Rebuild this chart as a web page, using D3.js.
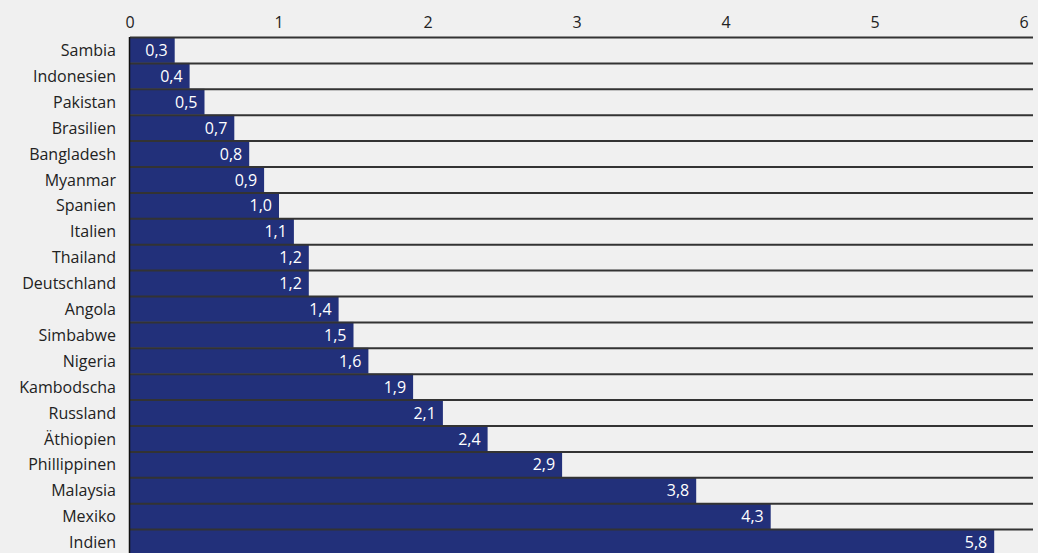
<!DOCTYPE html>
<html>
<head>
<meta charset="utf-8">
<script src="https://cdn.jsdelivr.net/npm/d3@7"></script>
<style>
  body { margin: 0; background: #f0f0f0; }
  svg { display: block; font-family: "Open Sans", sans-serif; }
</style>
</head>
<body>
<svg id="chart"></svg>
<script>
// countries, top to bottom
const countries = ["Sambia", "Indonesien", "Pakistan", "Brasilien", "Bangladesh", "Myanmar",
  "Spanien", "Italien", "Thailand", "Deutschland", "Angola", "Simbabwe", "Nigeria",
  "Kambodscha", "Russland", "Äthiopien", "Phillippinen", "Malaysia", "Mexiko", "Indien"];
const values = [0.3, 0.4, 0.5, 0.7, 0.8, 0.9, 1.0, 1.1, 1.2, 1.2, 1.4, 1.5, 1.6,
  1.9, 2.1, 2.4, 2.9, 3.8, 4.3, 5.8];
const ticks = [0, 1, 2, 3, 4, 5, 6];

const data = countries.map((c, i) => ({ name: c, value: values[i] }));

const width = 1038, height = 553;
const margin = { top: 37, left: 130, right: 14 };
const rowH = 25.9;

const svg = d3.select("#chart")
    .attr("width", width)
    .attr("height", height);

const x = d3.scaleLinear()
    .domain([0, 6])
    .range([margin.left, 1024]);

const y = d3.scaleBand()
    .domain(countries)
    .range([margin.top, margin.top + rowH * countries.length])
    .padding(0);

const fmt = v => d3.format(".1f")(v).replace(".", ",");

// x axis on top
svg.append("g")
    .selectAll("text")
    .data(ticks)
    .enter().append("text")
    .attr("x", d => x(d))
    .attr("y", 28)
    .attr("text-anchor", "middle")
    .attr("font-size", 16)
    .attr("fill", "#222")
    .text(d => d);

// bars
svg.append("g")
    .selectAll("rect")
    .data(data)
    .enter().append("rect")
    .attr("x", x(0))
    .attr("y", d => y(d.name))
    .attr("width", d => x(d.value) - x(0))
    .attr("height", y.bandwidth())
    .attr("fill", "#22307a");

// row lines
svg.append("g")
    .selectAll("line")
    .data(data)
    .enter().append("line")
    .attr("x1", x(0))
    .attr("x2", width - 5)
    .attr("y1", d => y(d.name) + 0.5)
    .attr("y2", d => y(d.name) + 0.5)
    .attr("stroke", "#333")
    .attr("stroke-width", 2);

// left line
svg.append("line")
    .attr("x1", x(0) - 0.5)
    .attr("x2", x(0) - 0.5)
    .attr("y1", margin.top)
    .attr("y2", height)
    .attr("stroke", "#111")
    .attr("stroke-width", 1.5);

// country labels
svg.append("g")
    .selectAll("text")
    .data(data)
    .enter().append("text")
    .attr("x", 116)
    .attr("y", d => y(d.name) + y.bandwidth() / 2 + 0.5)
    .attr("dy", "0.35em")
    .attr("text-anchor", "end")
    .attr("font-size", 16)
    .attr("fill", "#222")
    .text(d => d.name);

// value labels inside bars
svg.append("g")
    .selectAll("text")
    .data(data)
    .enter().append("text")
    .attr("x", d => x(d.value) - 7)
    .attr("y", d => y(d.name) + y.bandwidth() / 2 + 0.5)
    .attr("dy", "0.35em")
    .attr("text-anchor", "end")
    .attr("font-size", 16)
    .attr("fill", "#fff")
    .text(d => fmt(d.value));
</script>
</body>
</html>
